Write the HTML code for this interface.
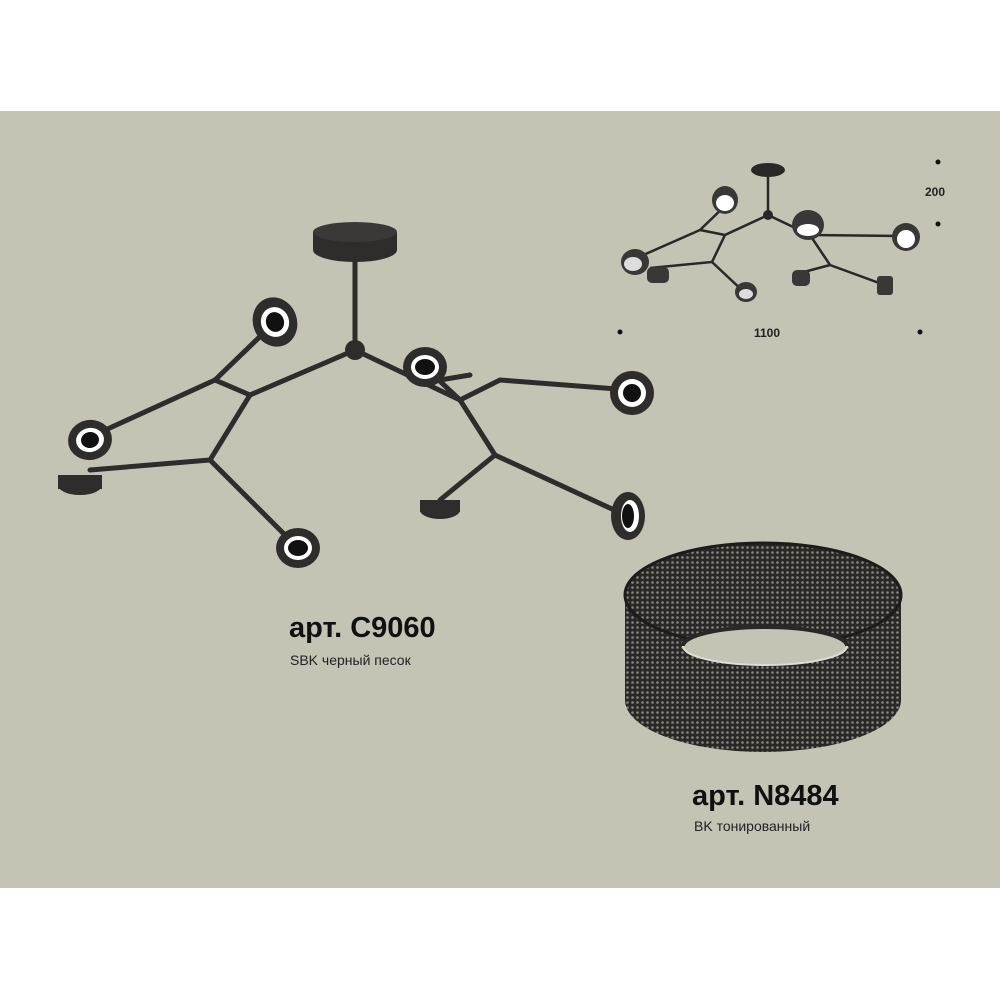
<!DOCTYPE html>
<html><head><meta charset="utf-8"><style>
body{margin:0;width:1000px;height:1000px;background:#fff;position:relative;overflow:hidden;font-family:"Liberation Sans","DejaVu Sans",sans-serif}
.band{position:absolute;left:0;top:111px;width:1000px;height:777px;background:#c4c3b4}
.t{position:absolute;color:#111}
</style></head><body>
<div class="band"></div>
<svg width="1000" height="1000" style="position:absolute;left:0;top:0">
<defs>
<pattern id="cr" width="5" height="5" patternUnits="userSpaceOnUse">
<rect width="5" height="5" fill="#2a2826"/><circle cx="2.5" cy="2.5" r="1.3" fill="#8a8680"/>
</pattern>
</defs>
<g stroke="#2e2d2b" stroke-width="5" stroke-linecap="round" fill="none">
<line x1="355" y1="255" x2="355" y2="350"/>
<polyline points="355,350 250,395 210,460 90,470"/>
<line x1="210" y1="460" x2="295" y2="545"/>
<polyline points="250,395 215,380 272,325"/>
<line x1="215" y1="380" x2="90" y2="437"/>
<polyline points="355,350 460,400 495,455 625,515"/>
<line x1="495" y1="455" x2="440" y2="500"/>
<polyline points="460,400 500,380 630,390"/>
<line x1="460" y1="400" x2="428" y2="370"/>
<line x1="440" y1="380" x2="470" y2="375"/>
</g>
<g fill="#2e2d2b">
<ellipse cx="355" cy="250" rx="42" ry="12"/><rect x="313" y="232" width="84" height="18"/><ellipse cx="355" cy="232" rx="42" ry="10" fill="#3a3937"/>
<circle cx="355" cy="350" r="10"/>
</g>
<g>
<g transform="translate(275,322) rotate(-20)"><ellipse rx="22" ry="25" fill="#2e2d2b"/><ellipse rx="14" ry="15" fill="#fff"/><ellipse rx="9" ry="10" fill="#111"/></g>
<g transform="translate(90,440) rotate(-10)"><ellipse rx="22" ry="20" fill="#2e2d2b"/><ellipse rx="14" ry="12" fill="#fff"/><ellipse rx="9" ry="8" fill="#111"/></g>
<g transform="translate(80,485)"><ellipse rx="22" ry="10" fill="#2e2d2b"/><rect x="-22" y="-10" width="44" height="14" fill="#2e2d2b"/></g>
<g transform="translate(298,548)"><ellipse rx="22" ry="20" fill="#2e2d2b"/><ellipse rx="14" ry="12" fill="#fff"/><ellipse rx="10" ry="8" fill="#111"/></g>
<g transform="translate(425,367)"><ellipse rx="22" ry="20" fill="#2e2d2b"/><ellipse rx="14" ry="12" fill="#fff"/><ellipse rx="10" ry="8" fill="#111"/></g>
<g transform="translate(632,393)"><ellipse rx="22" ry="22" fill="#2e2d2b"/><ellipse rx="14" ry="14" fill="#fff"/><ellipse rx="9" ry="9" fill="#111"/></g>
<g transform="translate(440,510)"><ellipse rx="20" ry="9" fill="#2e2d2b"/><rect x="-20" y="-10" width="40" height="12" fill="#2e2d2b"/></g>
<g transform="translate(628,516)"><ellipse rx="17" ry="24" fill="#2e2d2b"/><ellipse cx="2" rx="9" ry="16" fill="#fff"/><ellipse cx="0" rx="6" ry="12" fill="#111"/></g>
</g>
<g stroke="#2a2826" stroke-width="2.5" fill="none">
<line x1="768" y1="170" x2="768" y2="215"/>
<polyline points="768,215 725,235 712,262 650,268"/>
<line x1="712" y1="262" x2="745" y2="293"/>
<polyline points="725,235 700,230 728,203"/>
<line x1="700" y1="230" x2="632" y2="260"/>
<polyline points="768,215 810,235 830,265 890,287"/>
<line x1="830" y1="265" x2="800" y2="273"/>
<line x1="810" y1="235" x2="905" y2="236"/>
</g>
<ellipse cx="768" cy="170" rx="17" ry="7" fill="#2a2826"/><circle cx="768" cy="215" r="5" fill="#2a2826"/>
<g fill="#3a3836">
<ellipse cx="725" cy="200" rx="13" ry="14"/><ellipse cx="725" cy="203" rx="9" ry="8" fill="#fff"/>
<ellipse cx="635" cy="262" rx="14" ry="13"/><ellipse cx="633" cy="264" rx="9" ry="7" fill="#ddd"/>
<rect x="647" y="267" width="22" height="16" rx="5"/>
<ellipse cx="746" cy="292" rx="11" ry="10"/><ellipse cx="746" cy="294" rx="7" ry="5" fill="#ddd"/>
<ellipse cx="808" cy="225" rx="16" ry="15"/><ellipse cx="808" cy="230" rx="11" ry="6" fill="#fff"/>
<ellipse cx="906" cy="237" rx="14" ry="14"/><ellipse cx="906" cy="239" rx="9" ry="9" fill="#fff"/>
<rect x="792" y="270" width="18" height="16" rx="5"/>
<rect x="877" y="276" width="16" height="19" rx="3"/>
</g>
<g fill="#111">
<circle cx="938" cy="162" r="2.5"/><circle cx="938" cy="224" r="2.5"/>
<circle cx="620" cy="332" r="2.5"/><circle cx="920" cy="332" r="2.5"/>
</g>
<text x="925" y="196" font-family="Liberation Sans" font-weight="bold" font-size="12" fill="#222">200</text>
<text x="767" y="337" font-family="Liberation Sans" font-weight="bold" font-size="12" fill="#222" text-anchor="middle">1100</text>
<path d="M625,595 A138,52 0 0 1 901,595 L901,700 A138,52 0 0 1 625,700 Z" fill="url(#cr)"/>
<ellipse cx="763" cy="595" rx="138" ry="52" fill="none" stroke="#1e1c1a" stroke-width="3"/>
<ellipse cx="765" cy="646" rx="82" ry="19" fill="#c4c3b4" stroke="#e0ddd5" stroke-width="2"/>
<path d="M683,646 A82,19 0 0 1 847,646" fill="none" stroke="#2a2826" stroke-width="4"/>
</svg>
<div class="t" style="left:289px;top:612px;font-size:29px;font-weight:bold">арт. C9060</div>
<div class="t" style="left:290px;top:652px;font-size:14px;color:#222">SBK черный песок</div>
<div class="t" style="left:692px;top:780px;font-size:29px;font-weight:bold">арт. N8484</div>
<div class="t" style="left:694px;top:818px;font-size:14px;color:#222">BK тонированный</div>
</body></html>
